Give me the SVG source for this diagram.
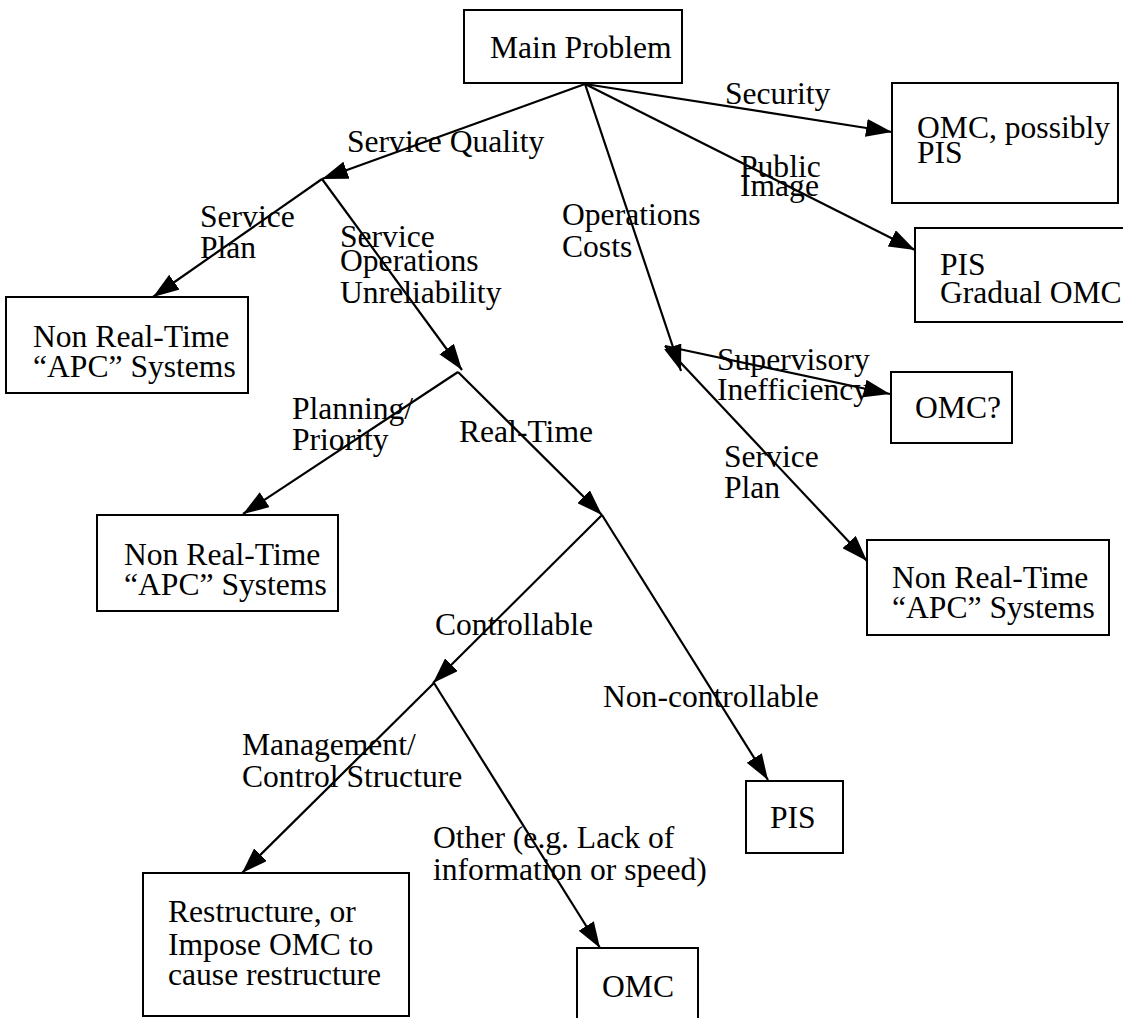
<svg xmlns="http://www.w3.org/2000/svg" width="1123" height="1018" viewBox="0 0 1123 1018">
<style>
text{font-family:"Times New Roman","Liberation Serif","DejaVu Serif","Noto Serif",serif;font-size:31.6px;fill:#000}
.box{fill:#fff;stroke:#000;stroke-width:2}
.edge{fill:none;stroke:#000;stroke-width:2.2}
.arr{marker-end:url(#ah)}
</style>
<defs>
<marker id="ah" viewBox="0 0 26 18" refX="26" refY="9" markerWidth="26" markerHeight="18" markerUnits="userSpaceOnUse" orient="auto">
<path d="M0,0 L26,9 L0,18 z" fill="#000"/>
</marker>
</defs>
<rect width="1123" height="1018" fill="#fff"/>
<g id="connectors">
<line class="edge arr" x1="585" y1="84" x2="892" y2="132"/>
<line class="edge arr" x1="585" y1="84" x2="915" y2="250"/>
<line class="edge arr" x1="585" y1="84" x2="681" y2="371"/>
<line class="edge arr" x1="585" y1="84" x2="322" y2="179"/>
<line class="edge arr" x1="665" y1="346" x2="890" y2="394"/>
<line class="edge arr" x1="665" y1="346" x2="867" y2="561"/>
<line class="edge arr" x1="322" y1="179" x2="153" y2="297"/>
<line class="edge arr" x1="322" y1="179" x2="462" y2="370"/>
<line class="edge arr" x1="458" y1="372" x2="243" y2="514"/>
<line class="edge arr" x1="458" y1="372" x2="602" y2="515"/>
<line class="edge arr" x1="602" y1="515" x2="433" y2="683"/>
<line class="edge arr" x1="602" y1="515" x2="768" y2="780"/>
<line class="edge arr" x1="434" y1="683" x2="242" y2="873"/>
<line class="edge arr" x1="434" y1="683" x2="600" y2="948"/>
</g>
<g id="edge-labels">
<text x="725" y="104">Security</text>
<text x="740" y="177">Public</text>
<text x="740" y="196">Image</text>
<text x="347" y="152">Service Quality</text>
<text x="562" y="225">Operations</text>
<text x="562" y="257">Costs</text>
<text x="200" y="227">Service</text>
<text x="200" y="258">Plan</text>
<text x="340" y="247">Service</text>
<text x="340" y="271">Operations</text>
<text x="340" y="303">Unreliability</text>
<text x="717" y="370">Supervisory</text>
<text x="717" y="400">Inefficiency</text>
<text x="724" y="467">Service</text>
<text x="724" y="498">Plan</text>
<text x="292" y="419">Planning/</text>
<text x="292" y="450">Priority</text>
<text x="459" y="442">Real-Time</text>
<text x="435" y="635">Controllable</text>
<text x="603" y="707">Non-controllable</text>
<text x="242" y="755">Management/</text>
<text x="242" y="787">Control Structure</text>
<text x="433" y="848">Other (e.g. Lack of</text>
<text x="433" y="880">information or speed)</text>
</g>
<g id="n-main"><rect class="box" x="464" y="10" width="218" height="73"/><text x="490" y="58">Main Problem</text></g>
<g id="n-omc-pis"><rect class="box" x="892" y="83" width="226" height="120"/><text x="917" y="138">OMC, possibly</text><text x="917" y="163">PIS</text></g>
<g id="n-pis-gradual"><rect class="box" x="915" y="228" width="215" height="94"/><text x="940" y="275">PIS</text><text x="940" y="303">Gradual OMC</text></g>
<g id="n-nrt1"><rect class="box" x="6" y="297" width="242" height="96"/><text x="33" y="347">Non Real-Time</text><text x="33" y="377">“APC” Systems</text></g>
<g id="n-omcq"><rect class="box" x="891" y="372" width="121" height="71"/><text x="915" y="418">OMC?</text></g>
<g id="n-nrt2"><rect class="box" x="97" y="515" width="241" height="96"/><text x="124" y="565">Non Real-Time</text><text x="124" y="595">“APC” Systems</text></g>
<g id="n-nrt3"><rect class="box" x="867" y="540" width="242" height="95"/><text x="892" y="588">Non Real-Time</text><text x="892" y="618">“APC” Systems</text></g>
<g id="n-pis"><rect class="box" x="746" y="781" width="97" height="72"/><text x="770" y="828">PIS</text></g>
<g id="n-restructure"><rect class="box" x="143" y="873" width="266" height="143"/><text x="168" y="922">Restructure, or</text><text x="168" y="955">Impose OMC to</text><text x="168" y="985">cause restructure</text></g>
<g id="n-omc"><rect class="box" x="577" y="948" width="121" height="80"/><text x="602" y="997">OMC</text></g>
</svg>
